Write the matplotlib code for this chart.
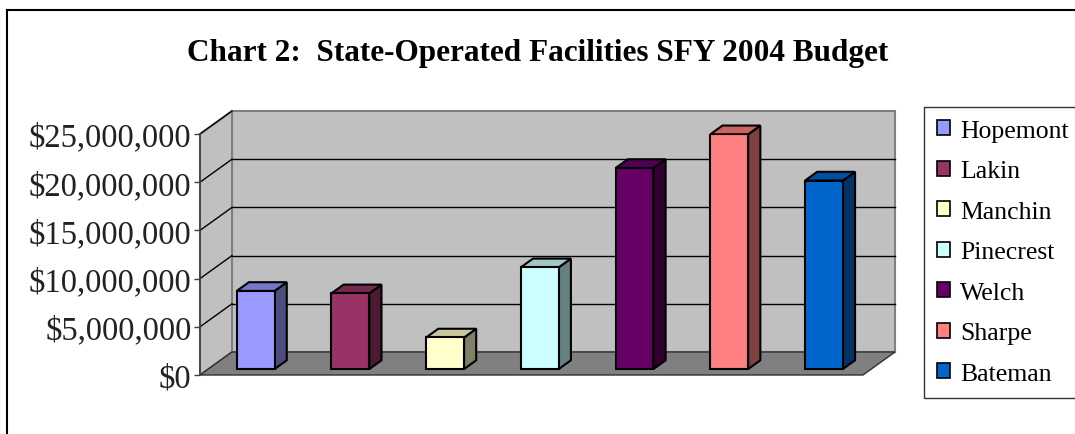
import numpy as np
import matplotlib
matplotlib.use("Agg")
import matplotlib.pyplot as plt
from matplotlib.patches import Polygon, Patch
from matplotlib.lines import Line2D
from matplotlib.ticker import FuncFormatter
from matplotlib.colors import to_rgb

# =========================================================
# DATA
# =========================================================

facilities = ["Hopemont", "Lakin", "Manchin", "Pinecrest", "Welch", "Sharpe", "Bateman"]
budget = [8.1e6, 7.85e6, 3.27e6, 10.55e6, 20.85e6, 24.35e6, 19.55e6]
bar_colors = ["#9999FF", "#993366", "#FFFFCC", "#CCFFFF", "#660066", "#FF8080", "#0066CC"]
y_ticks = [0, 5e6, 10e6, 15e6, 20e6, 25e6]

# =========================================================
# LAYOUT / 3D LOOK
# =========================================================

W, H = 1075, 435
Y_MAX = 25e6

fig = plt.figure(figsize=(W / 100, H / 100), dpi=100)
fig.patch.set_facecolor("white")

# front plane of the plot area, in pixels
left_px, right_px, bottom_px, top_px = 200, 863, 376, 135
ax = fig.add_axes([left_px / W, 1 - bottom_px / H,
                   (right_px - left_px) / W, (bottom_px - top_px) / H])

n = len(facilities)
x_min, x_max = -0.5, n - 0.5
ax.set_xlim(x_min, x_max)
ax.set_ylim(0, Y_MAX)

# depth offset of the back wall, in data units
px_per_x = (right_px - left_px) / n
px_per_y = (bottom_px - top_px) / Y_MAX
ddx = 32 / px_per_x
ddy = 23 / px_per_y

WALL = "#C0C0C0"
FLOOR = "#808080"
EDGE = "#808080"

# back wall
ax.add_patch(Polygon([(x_min + ddx, ddy), (x_max + ddx, ddy),
                      (x_max + ddx, Y_MAX + ddy), (x_min + ddx, Y_MAX + ddy)],
                     closed=True, facecolor=WALL, edgecolor=EDGE, lw=1.5,
                     clip_on=False, zorder=1))
# left wall
ax.add_patch(Polygon([(x_min, 0), (x_min + ddx, ddy),
                      (x_min + ddx, Y_MAX + ddy), (x_min, Y_MAX)],
                     closed=True, facecolor=WALL, edgecolor=EDGE, lw=1.5,
                     clip_on=False, zorder=1))
# floor
ax.add_patch(Polygon([(x_min, 0), (x_max, 0),
                      (x_max + ddx, ddy), (x_min + ddx, ddy)],
                     closed=True, facecolor=FLOOR, edgecolor="#303030", lw=1,
                     clip_on=False, zorder=2))

# gridlines on the walls
for v in y_ticks[1:-1]:
    ax.plot([x_min + ddx, x_max + ddx], [v + ddy, v + ddy], color="black",
            lw=1, clip_on=False, zorder=1.5)
for v in y_ticks[1:]:
    ax.plot([x_min, x_min + ddx], [v, v + ddy], color="black",
            lw=1, clip_on=False, zorder=1.5)

# =========================================================
# BARS
# =========================================================

bar_w = 0.4
f1, f2 = 0.26, 0.64   # front / back depth of bars


def shade(c, k):
    r, g, b = to_rgb(c)
    return (r * k, g * k, b * k)


for i, (val, col) in enumerate(zip(budget, bar_colors)):
    xc = i + f1 * ddx
    ax.bar(xc, val, bottom=f1 * ddy, width=bar_w, color=col,
           edgecolor="black", lw=1.5, zorder=4)
    xr = xc + bar_w / 2
    xl = xc - bar_w / 2
    sx = (f2 - f1) * ddx
    sy = (f2 - f1) * ddy
    side = [(xr, f1 * ddy), (xr + sx, f1 * ddy + sy),
            (xr + sx, val + f1 * ddy + sy), (xr, val + f1 * ddy)]
    top = [(xl, val + f1 * ddy), (xr, val + f1 * ddy),
           (xr + sx, val + f1 * ddy + sy), (xl + sx, val + f1 * ddy + sy)]
    ax.add_patch(Polygon(side, closed=True, facecolor=shade(col, 0.5),
                         edgecolor="black", lw=1.5, clip_on=False, zorder=3))
    ax.add_patch(Polygon(top, closed=True, facecolor=shade(col, 0.78),
                         edgecolor="black", lw=1.5, clip_on=False, zorder=3))

# =========================================================
# AXES STYLE
# =========================================================

for s in ["top", "right", "bottom"]:
    ax.spines[s].set_visible(False)
ax.spines["left"].set_color("#404040")
ax.spines["left"].set_linewidth(1.2)
ax.spines["left"].set_zorder(5)
ax.set_facecolor("none")
ax.set_xticks([])
ax.set_yticks(y_ticks)
ax.yaxis.set_major_formatter(FuncFormatter(lambda v, p: f"${v:,.0f}"))
ax.tick_params(axis="y", length=4, width=1, color="#404040", pad=2)
for lbl in ax.get_yticklabels():
    lbl.set_fontfamily("Liberation Serif")
    lbl.set_fontsize(23.5)
    lbl.set_color("#222222")

# title
fig.text(0.5, 1 - 53 / H, "Chart 2:  State-Operated Facilities SFY 2004 Budget",
         ha="center", va="center", fontfamily="Liberation Serif",
         fontweight="bold", fontsize=22.5)

# legend
handles = [Patch(facecolor=c, edgecolor="black", lw=1.2) for c in bar_colors]
leg = fig.legend(handles, facilities, loc="upper left",
                 bbox_to_anchor=(924 / W, 1 - 108 / H),
                 prop={"family": "Liberation Serif", "size": 18.5},
                 frameon=True, fancybox=False, shadow=False,
                 handlelength=0.5, handleheight=0.5, handletextpad=0.4,
                 labelspacing=0.72, borderpad=0.5, borderaxespad=0)
leg.get_frame().set_edgecolor("black")
leg.get_frame().set_linewidth(1)

# chart border (left and top edges visible)
fig.add_artist(Line2D([7 / W, 7 / W], [0, 1 - 11 / H], color="black", lw=1.5))
fig.add_artist(Line2D([7 / W, 1], [1 - 11 / H, 1 - 11 / H], color="black", lw=1.5))

plt.savefig("out.png", dpi=100)
